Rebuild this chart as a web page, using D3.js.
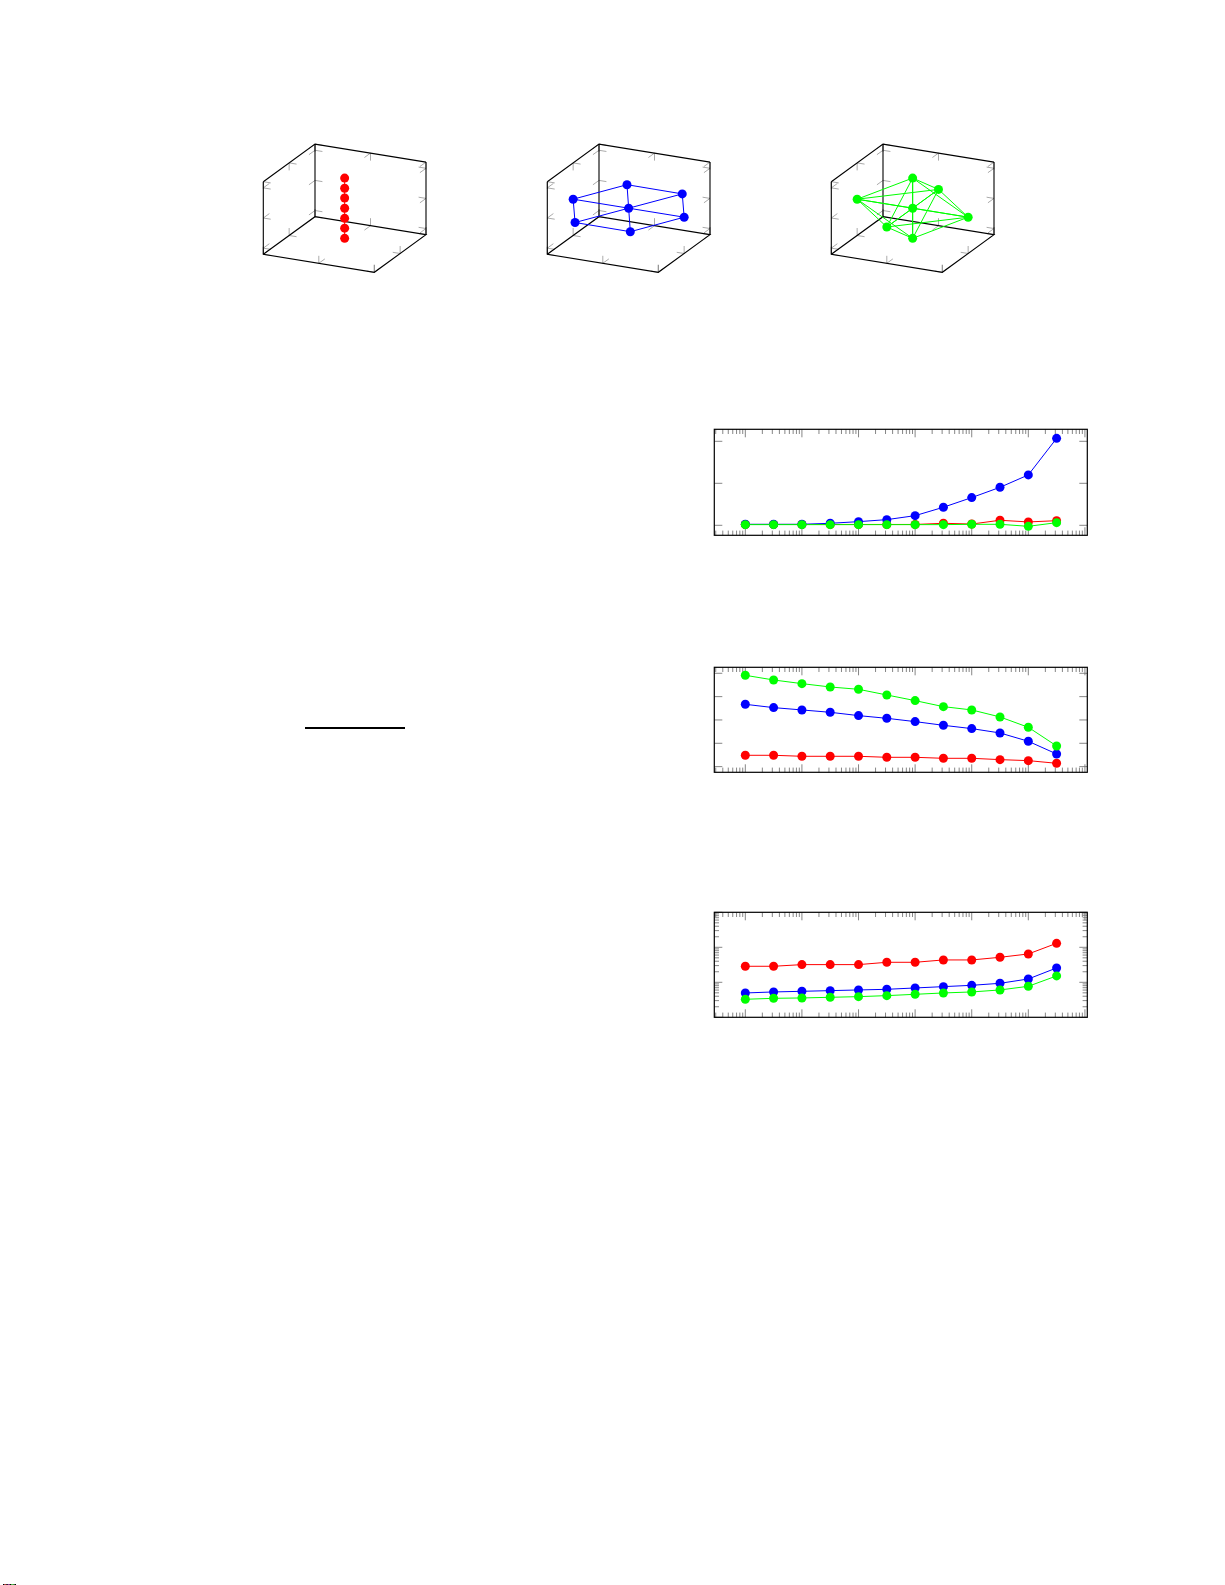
<!DOCTYPE html>
<html><head><meta charset="utf-8">
<script src="https://cdn.jsdelivr.net/npm/d3@7"></script>
<style>html,body{margin:0;padding:0;background:#fff}svg{display:block}</style>
</head><body><svg id="c" width="1225" height="1585"></svg>
<script>
// ---------- data ----------
const xValues = [1,3.16,10,31.6,100,316,1000,3160,10000,31600,100000,316000];
const linRed   = [0.02,0.02,0.02,0.02,0.02,0.02,0.02,0.048,0.03,0.12,0.08,0.11];
const linBlue  = [0.024,0.024,0.024,0.048,0.087,0.135,0.23,0.43,0.66,0.905,1.2,2.07];
const linGreen = [0.016,0.016,0.016,0.016,0.016,0.016,0.016,0.016,0.024,0.024,-0.024,0.063];
const midRed   = [0.486,0.486,0.443,0.443,0.443,0.4,0.4,0.357,0.357,0.3,0.257,0.143];
const midBlue  = [2.671,2.529,2.429,2.329,2.186,2.071,1.929,1.771,1.629,1.443,1.086,0.543];
const midGreen = [3.914,3.714,3.557,3.414,3.314,3.071,2.829,2.571,2.429,2.129,1.686,0.886];
const logRed   = [2.87,2.87,3.2,3.2,3.2,3.73,3.73,4.35,4.35,5.18,6.45,13.0];
const logBlue  = [0.496,0.53,0.553,0.578,0.604,0.631,0.689,0.752,0.82,0.936,1.245,2.57];
const logGreen = [0.327,0.349,0.357,0.373,0.389,0.416,0.454,0.496,0.53,0.604,0.769,1.52];
const redNodes   = [[0,0,0.83],[0,0,0.55],[0,0,0.28],[0,0,0],[0,0,-0.28],[0,0,-0.55],[0,0,-0.83]];
const blueNodes  = [[-1,0,0],[-0.03,0,0.64],[0.5,1,0],[0,0,0],[1,0,0],[0.03,0,-0.64],[-0.5,-1,0]];
const blueEdges  = [[0,1],[1,2],[0,4],[2,6],[1,5],[0,6],[2,4],[6,5],[5,4]];
const greenNodes = [[-1,0,0],[0,0,0.83],[0,1,0],[0,0,0],[1,0,0],[0,0,-0.83],[0,-1,0]];
const cubeTicks = [-1,0,1];
const cubeZTicks = [-0.83,0,0.83];
const stripColors = ["#000","#c33","#000","#a3a","#000","#3a3","#3a3","#000"];
const RED="#ff0000", BLUE="#0000ff", GREEN="#00ff00", TICK="#707070";

const svg = d3.select("#c");

// ---------- 3D cubes ----------
function cube(ox, nodes, edges, color){
  const g = svg.append("g");
  const sx = d3.scaleLinear().domain([-1,1]).range([0,1]);
  const O=[ox,254.3], X=[111,18], Y=[51.7,-37.6], Z=[0,-72.6];
  const P=(a,b,c)=>{const u=sx(a),v=sx(b),w=sx(c);
    return [O[0]+u*X[0]+v*Y[0]+w*Z[0], O[1]+u*X[1]+v*Y[1]+w*Z[1]];};
  const norm=v=>{const l=Math.hypot(v[0],v[1]);return [v[0]/l,v[1]/l];};
  const nX=norm(X), nY=norm(Y), nZ=norm(Z), L=7.5;
  const seg=(p,d,s)=>g.append("line").attr("x1",p[0]).attr("y1",p[1])
    .attr("x2",p[0]+s*d[0]*L).attr("y2",p[1]+s*d[1]*L)
    .attr("stroke",TICK).attr("stroke-width",0.6);
  // ticks on walls
  [[-1,-1],[1,-1],[1,1]].forEach(([b,c])=>cubeTicks.forEach(t=>{
    const p=P(t,b,c); seg(p,nY,-b); seg(p,nZ,-c);}));
  [[-1,-1],[1,-1],[-1,1]].forEach(([a,c])=>cubeTicks.forEach(t=>{
    const p=P(a,t,c); seg(p,nX,-a); seg(p,nZ,-c);}));
  [[-1,-1],[-1,1],[1,1]].forEach(([a,b])=>cubeZTicks.forEach(t=>{
    const p=P(a,b,t); seg(p,nX,-a); seg(p,nY,-b);}));
  // frame
  const path=[[[-1,-1,1],[-1,1,1],[1,1,1]],[[-1,-1,1],[-1,-1,-1],[1,-1,-1],[1,1,-1],[-1,1,-1],[-1,-1,-1]],
    [[-1,1,1],[-1,1,-1]],[[1,1,1],[1,1,-1]]];
  const line=d3.line();
  path.forEach(s=>g.append("path").attr("d",line(s.map(q=>P(...q))))
    .attr("fill","none").attr("stroke","#000").attr("stroke-width",1.1));
  // edges and nodes
  edges.forEach(([a,b])=>{const p=P(...nodes[a]),q=P(...nodes[b]);
    g.append("line").attr("x1",p[0]).attr("y1",p[1]).attr("x2",q[0]).attr("y2",q[1])
      .attr("stroke",color).attr("stroke-width",1);});
  g.selectAll("circle").data(nodes).join("circle")
    .attr("cx",d=>P(...d)[0]).attr("cy",d=>P(...d)[1]).attr("r",4.5).attr("fill",color);
}
cube(263.3, redNodes, d3.pairs(d3.range(redNodes.length)), RED);
cube(547.3, blueNodes, blueEdges, BLUE);
cube(831.3, greenNodes, d3.range(7).flatMap(i=>d3.range(i+1,7).map(j=>[i,j])), GREEN);

// ---------- line panels ----------
const xScale = d3.scaleLog().domain([Math.pow(10,-0.548),Math.pow(10,6.042)]).range([714.3,1087.3]);
function ticksLog(dom){
  const out=[];
  for(let e=Math.floor(Math.log10(dom[0]));e<=Math.ceil(Math.log10(dom[1]));e++)
    for(let m=1;m<10;m++){const v=m*Math.pow(10,e);
      if(v>=dom[0]*0.999&&v<=dom[1]*1.001) out.push({v,major:m===1});}
  return out;
}
function panel(top,bottom,yScale,yTicks,series){
  const g=svg.append("g");
  const x0=xScale.range()[0],x1=xScale.range()[1];
  const tick=(a,b,c,d)=>g.append("line").attr("x1",a).attr("y1",b).attr("x2",c).attr("y2",d)
    .attr("stroke",TICK).attr("stroke-width",0.85);
  ticksLog(xScale.domain()).forEach(t=>{
    const x=xScale(t.v), l=t.major?8:4.7;
    tick(x,top,x,top+l); tick(x,bottom,x,bottom-l);
  });
  yTicks.forEach(t=>{
    const y=yScale(t.v), l=t.major?8:4.7;
    tick(x0,y,x0+l,y); tick(x1,y,x1-l,y);
  });
  g.append("rect").attr("x",x0).attr("y",top).attr("width",x1-x0).attr("height",bottom-top)
    .attr("fill","none").attr("stroke","#000").attr("stroke-width",1.2);
  const line=d3.line().x((d,i)=>xScale(xValues[i])).y(d=>yScale(d));
  series.forEach(([vals,color])=>{
    g.append("path").attr("d",line(vals)).attr("fill","none").attr("stroke",color).attr("stroke-width",1);
    g.append("g").selectAll("circle").data(vals).join("circle")
      .attr("cx",(d,i)=>xScale(xValues[i])).attr("cy",d=>yScale(d)).attr("r",4.5).attr("fill",color);
  });
}
const y1=d3.scaleLinear().domain([-0.238,2.286]).range([535.3,429.3]);
panel(429.3,535.3,y1,[0,1,2].map(v=>({v,major:true})),[[linRed,RED],[linBlue,BLUE],[linGreen,GREEN]]);
const y2=d3.scaleLinear().domain([-0.243,4.257]).range([772.3,667.3]);
panel(667.3,772.3,y2,[0,1,2,3,4].map(v=>({v,major:true})),[[midRed,RED],[midBlue,BLUE],[midGreen,GREEN]]);
const y3=d3.scaleLog().domain([0.1,100]).range([1017.3,912.3]);
panel(912.3,1017.3,y3,ticksLog(y3.domain()),[[logRed,RED],[logBlue,BLUE],[logGreen,GREEN]]);

// ---------- stray rule and edge strip ----------
svg.append("line").attr("x1",305).attr("x2",405).attr("y1",728).attr("y2",728)
  .attr("stroke","#000").attr("stroke-width",2.2);
const stripX=d3.scaleBand().domain(d3.range(stripColors.length)).range([3,16]);
svg.append("g").selectAll("rect").data(stripColors).join("rect")
  .attr("x",(d,i)=>stripX(i)).attr("y",1584).attr("width",stripX.bandwidth()).attr("height",1).attr("fill",d=>d);
</script></body></html>
